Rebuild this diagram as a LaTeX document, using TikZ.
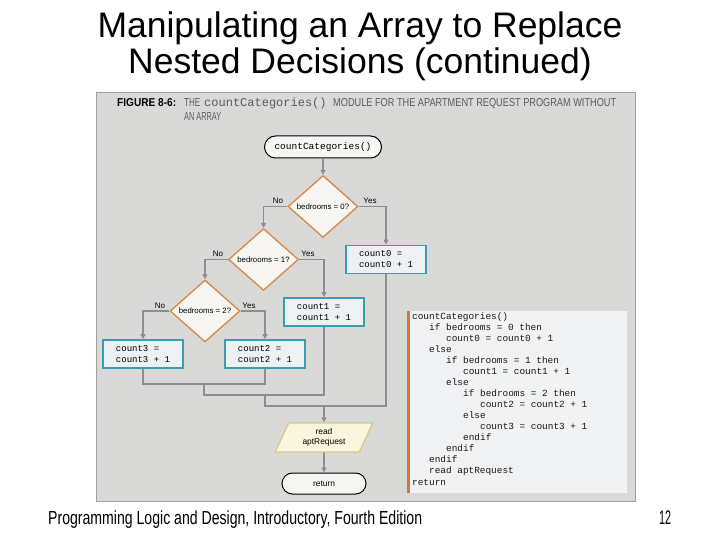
\documentclass[tikz,border=0pt]{standalone}
\usepackage{fontspec}
\setmainfont{Liberation Sans}
\setmonofont{Liberation Mono}
\usetikzlibrary{shapes.geometric,arrows.meta}
\definecolor{panel}{HTML}{D9D9D8}
\definecolor{panelline}{HTML}{A0A0A0}
\definecolor{dorange}{HTML}{D98B4E}
\definecolor{dfill}{HTML}{F7F6F3}
\definecolor{bteal}{HTML}{3E9CB2}
\definecolor{bfill}{HTML}{EEF1F3}
\definecolor{flow}{HTML}{8E8E8E}
\definecolor{pfill}{HTML}{FAF5DD}
\definecolor{pline}{HTML}{D9C88A}
\definecolor{codefill}{HTML}{F1F2F3}
\definecolor{codebar}{HTML}{D27A3E}
\definecolor{captxt}{HTML}{5C5C5C}
\begin{document}
\begin{tikzpicture}[x=1pt,y=-1pt,
 decision/.style={diamond, draw=dorange, fill=dfill, line width=1.4pt, minimum width=70pt, minimum height=62pt, inner sep=0pt, font=\fontsize{7.8}{9}\selectfont},
 procbox/.style={rectangle, draw=bteal, fill=bfill, line width=1.8pt, minimum width=80pt, minimum height=28pt, inner sep=0pt, align=left, font=\fontsize{9}{11}\ttfamily},
 terminal/.style={rectangle, draw=black, fill=dfill, line width=1pt, inner sep=0pt},
 flowline/.style={draw=flow, line width=1.6pt},
 flowarrow/.style={flowline, -{Triangle[length=5pt,width=5pt]}},
 lbl/.style={font=\fontsize{8}{9}\selectfont, inner sep=0pt},
 codeline/.style={anchor=base west, inner sep=0pt, font=\fontsize{9.4}{11}\ttfamily, text=black!90},
 captext/.style={anchor=base west, inner sep=0pt, text=captxt},
]
\useasboundingbox (0,0) rectangle (720,540);
\fill[white] (0,0) rectangle (720,540);
% title
\node[font=\fontsize{35.5}{37}\selectfont, anchor=base, inner sep=0pt] (t1) at (360,37.5) {Manipulating an Array to Replace};
\node[font=\fontsize{35.5}{37}\selectfont, anchor=base, inner sep=0pt] (t2) at (360,74) {Nested Decisions (continued)};
% panel
\path[fill=panel, draw=panelline, line width=1pt] (96,93) rectangle (635,501);
% caption
\node[anchor=base west, inner sep=0pt] (cap1) at (117,107) {\resizebox{59pt}{8pt}{\bfseries FIGURE 8-6:}};
\node[captext] (cap2) at (184,107) {\resizebox{16pt}{8pt}{THE}};
\node[captext, font=\fontsize{12}{12}\ttfamily] (cap3) at (204,107) {countCategories()};
\node[captext] (cap4) at (333,107) {\resizebox{283pt}{8pt}{MODULE FOR THE APARTMENT REQUEST PROGRAM WITHOUT}};
\node[captext] (cap5) at (184,121) {\resizebox{37pt}{8pt}{AN ARRAY}};
% flowchart
\node[terminal, minimum width=117pt, minimum height=22pt, rounded corners=11pt, font=\fontsize{9.5}{10}\ttfamily] (start) at (323,147) {countCategories()};
\node[decision] (d1) at (323,206.5) {\makebox[0pt]{bedrooms = 0?}};
\node[decision] (d2) at (263.5,259.5) {\makebox[0pt]{bedrooms = 1?}};
\node[decision] (d3) at (205,311) {\makebox[0pt]{bedrooms = 2?}};
\node[procbox] (b0) at (386,259.5) {count0 =\\count0 + 1};
\node[procbox] (b1) at (324,312) {count1 =\\count1 + 1};
\node[procbox] (b2) at (265,354) {count2 =\\count2 + 1};
\node[procbox] (b3) at (143,354) {count3 =\\count3 + 1};
\node[trapezium, trapezium left angle=66, trapezium right angle=114, trapezium stretches=true, draw=pline, fill=pfill, line width=1.3pt, minimum width=98pt, minimum height=29pt, inner sep=0pt, align=center, font=\fontsize{8.4}{10.5}\selectfont] (par) at (324,437.5) {read\\aptRequest};
\node[terminal, minimum width=84pt, minimum height=21pt, rounded corners=10.5pt, font=\fontsize{8.4}{9}\selectfont] (ret) at (324,483.5) {return};
% labels
\node[lbl] (no1) at (278,201) {No};
\node[lbl] (yes1) at (370,201) {Yes};
\node[lbl] (no2) at (218,253.5) {No};
\node[lbl] (yes2) at (308,253.5) {Yes};
\node[lbl] (no3) at (160,306) {No};
\node[lbl] (yes3) at (249,306) {Yes};
% connectors
\draw[flowarrow] (start.south) -- (d1.north);
\draw[flowarrow] (d1.west) -| (d2.north);
\draw[flowarrow] (d1.east) -| (b0.north);
\draw[flowarrow] (d2.west) -| (d3.north);
\draw[flowarrow] (d2.east) -| (b1.north);
\draw[flowarrow] (d3.west) -| (b3.north);
\draw[flowarrow] (d3.east) -| (b2.north);
\coordinate (j1) at (204,384);
\coordinate (j2) at (265,395);
\coordinate (j3) at (324,406);
\draw[flowline] (b3.south) |- (j1) -| (b2.south);
\draw[flowline] (j1) |- (j2) -| (b1.south);
\draw[flowline] (j2) |- (j3) -| (b0.south);
\draw[flowarrow] (j3) -- (par.north);
\draw[flowarrow] (par.south) -- (ret.north);
% pseudocode
\path[fill=codefill] (408,311) rectangle (627,493);
\draw[codebar, line width=2.5pt] (408.5,311) -- (408.5,493);
\foreach \i/\l/\t in {1/0/countCategories(), 2/1/if bedrooms = 0 then, 3/2/count0 = count0 + 1, 4/1/else, 5/2/if bedrooms = 1 then, 6/3/count1 = count1 + 1, 7/2/else, 8/3/if bedrooms = 2 then, 9/4/count2 = count2 + 1, 10/3/else, 11/4/count3 = count3 + 1, 12/3/endif, 13/2/endif, 14/1/endif, 15/1/read aptRequest, 16/0/return}
  \node[codeline] (c\i) at (412+17*\l, 319+11.07*\i-11.07) {\t};
% footer
\node[anchor=base west, inner sep=0pt] (foot) at (48,524.4) {\resizebox{374pt}{13.7pt}{Programming Logic and Design, Introductory, Fourth Edition}};
\node[anchor=base west, inner sep=0pt] (pg) at (659,524.4) {\resizebox{12pt}{13.7pt}{12}};
\end{tikzpicture}
\end{document}
